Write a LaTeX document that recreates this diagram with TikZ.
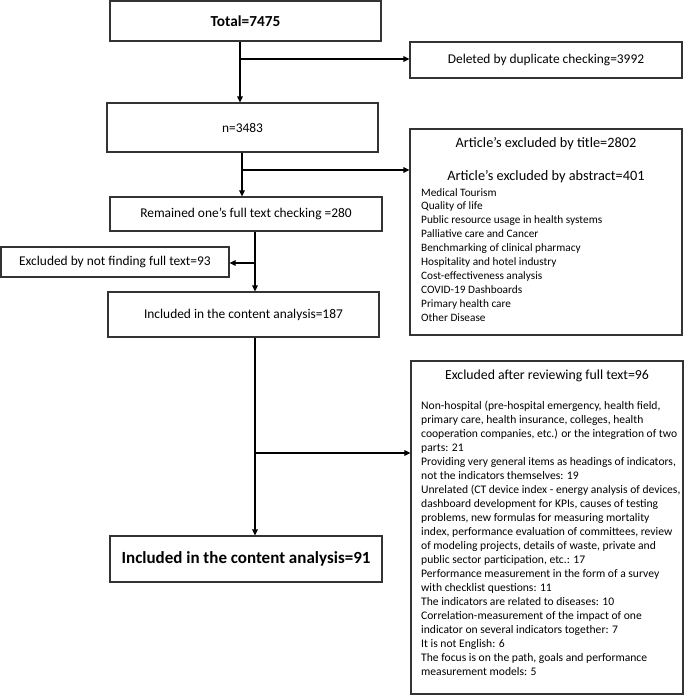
\documentclass[tikz,border=0pt]{standalone}
\usepackage{fontspec}
\setmainfont{Carlito}
\usetikzlibrary{arrows.meta}
\definecolor{edge}{HTML}{333333}
\tikzset{
  box/.style={draw=edge, line width=1.1pt, minimum width=#1, inner sep=0pt, align=center, font=\fontsize{13.4}{16}\selectfont},
  inner/.style={inner sep=0pt},
  conn/.style={line width=1.1pt, draw=black},
  arr/.style={conn, -{Triangle[length=6pt,width=5.5pt]}},
}
\begin{document}
\begin{tikzpicture}[x=1pt,y=-1pt]
\useasboundingbox (0,0) rectangle (685,697);
% boxes
\node[box=271pt, minimum height=40pt, font=\fontsize{15.3}{18}\selectfont\bfseries] (total) at (245.5,21) {Total=7475};
\node[box=272pt, minimum height=36pt] (del) at (546,60) {Deleted by duplicate checking=3992};
\node[box=271pt, minimum height=49pt] (n) at (242.5,127.5) {n=3483};
\node[box=272pt, minimum height=206pt] (art) at (546,232) {};
\node[box=272pt, minimum height=34pt] (rem) at (246,214) {Remained one’s full text checking =280};
\node[box=228pt, minimum height=30pt] (ex93) at (115,262) {Excluded by not finding full text=93};
\node[box=271pt, minimum height=45pt] (inc187) at (243.5,314.5) {Included in the content analysis=187};
\node[box=272pt, minimum height=333pt] (ex96) at (547,527.5) {};
\node[box=272pt, minimum height=46pt, font=\fontsize{17}{20}\selectfont\bfseries] (inc91) at (246,559) {Included in the content analysis=91};
% texts inside the large boxes
\node[inner, font=\fontsize{14.3}{17}\selectfont] (artt1) at (546,144) {Article’s excluded by title=2802};
\node[inner, font=\fontsize{14.3}{17}\selectfont] (artt2) at (546,177) {Article’s excluded by abstract=401};
\node[inner, font=\fontsize{11.3}{13.9}\selectfont, align=left, anchor=north west] (artlist) at (421,188) {Medical Tourism\\
Quality of life\\
Public resource usage in health systems\\
Palliative care and Cancer\\
Benchmarking of clinical pharmacy\\
Hospitality and hotel industry\\
Cost-effectiveness analysis\\
COVID-19 Dashboards\\
Primary health care\\
Other Disease};
\node[inner, font=\fontsize{13.8}{16}\selectfont] (ex96t) at (547,376) {Excluded after reviewing full text=96};
\node[inner, font=\fontsize{11.6}{14}\selectfont, align=left, anchor=north west] (ex96list) at (421,401) {Non-hospital (pre-hospital emergency, health field,\\
primary care, health insurance, colleges, health\\
cooperation companies, etc.) or the integration of two\\
parts: 21\\
Providing very general items as headings of indicators,\\
not the indicators themselves: 19\\
Unrelated (CT device index - energy analysis of devices,\\
dashboard development for KPIs, causes of testing\\
problems, new formulas for measuring mortality\\
index, performance evaluation of committees, review\\
of modeling projects, details of waste, private and\\
public sector participation, etc.: 17\\
Performance measurement in the form of a survey\\
with checklist questions: 11\\
The indicators are related to diseases: 10\\
Correlation-measurement of the impact of one\\
indicator on several indicators together: 7\\
It is not English: 6\\
The focus is on the path, goals and performance\\
measurement models: 5};
% junction coordinates
\coordinate (j1) at (240,59);
\coordinate (j2) at (242,170);
\coordinate (j3) at (255,263);
\coordinate (j4) at (255,453);
% connectors
\draw[arr] (total.south -| j1) -- (n.north -| j1);
\draw[arr] (j1) -- (del.west |- j1);
\draw[arr] (n.south -| j2) -- (rem.north -| j2);
\draw[arr] (j2) -- (art.west |- j2);
\draw[arr] (rem.south -| j3) -- (inc187.north -| j3);
\draw[arr] (j3) -- (ex93.east |- j3);
\draw[arr] (inc187.south -| j4) -- (inc91.north -| j4);
\draw[arr] (j4) -- (ex96.west |- j4);
\end{tikzpicture}
\end{document}
